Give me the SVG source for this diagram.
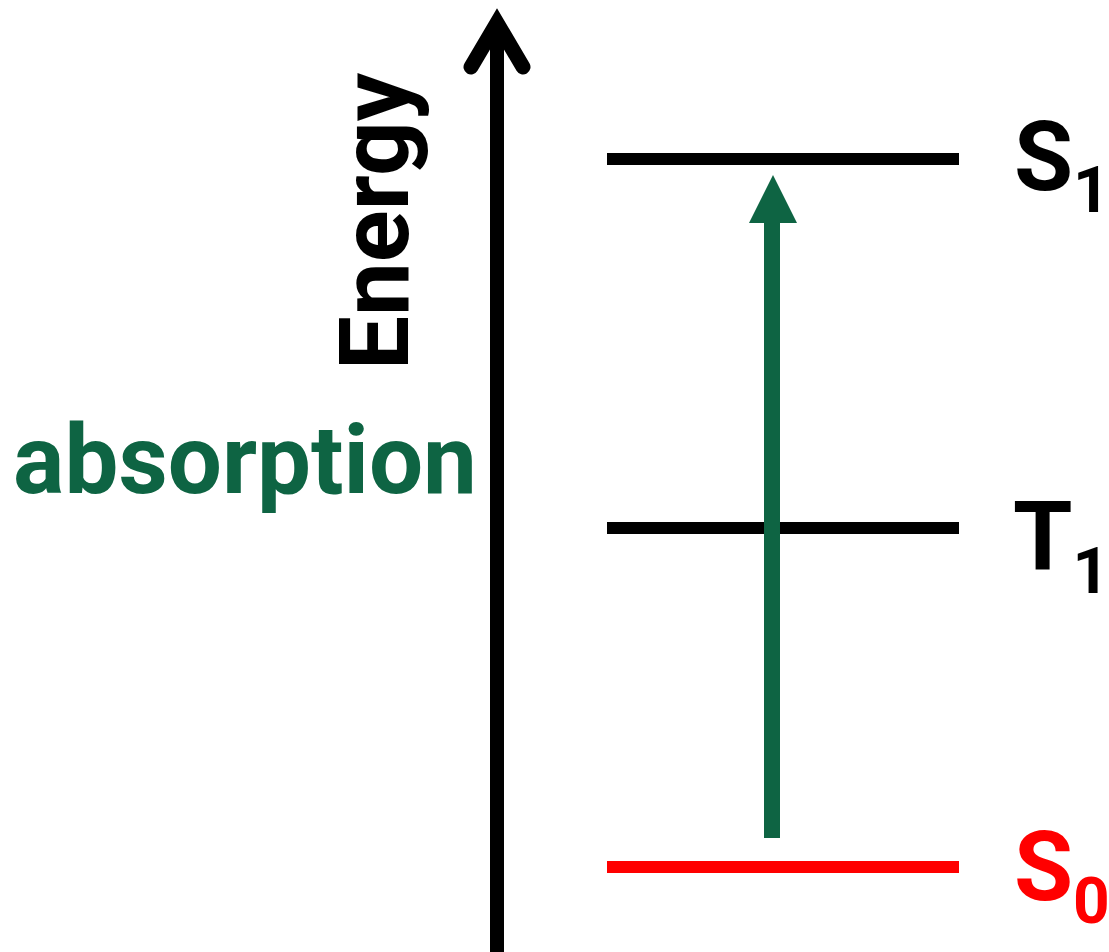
<svg xmlns="http://www.w3.org/2000/svg" width="1109" height="952" viewBox="0 0 1109 952">
<style>
.lvl{stroke-width:12;fill:none}
.lbl{font-family:Roboto,"Liberation Sans",sans-serif;font-weight:bold;font-size:96px}
.sub{font-size:64px}
</style>
<rect width="1109" height="952" fill="#ffffff"/>
<g id="axis">
<line x1="497" y1="952" x2="497" y2="26" stroke="#000" stroke-width="14"/>
<polyline points="471,67 497,23 523,67" fill="none" stroke="#000" stroke-width="15" stroke-linecap="round" stroke-linejoin="miter"/>
<text class="lbl" x="408" y="370" transform="rotate(-90 408 370)" fill="#000">Energy</text>
</g>
<g id="S1">
<line class="lvl" x1="607" y1="159" x2="959" y2="159" stroke="#000"/>
<text class="lbl" x="1014" y="190" fill="#000">S<tspan class="sub" dy="22">1</tspan></text>
</g>
<g id="T1">
<line class="lvl" x1="607" y1="528" x2="959" y2="528" stroke="#000"/>
<text class="lbl" x="1013" y="570" fill="#000">T<tspan class="sub" dy="23">1</tspan></text>
</g>
<g id="S0">
<line class="lvl" x1="607" y1="867" x2="959" y2="867" stroke="#ff0000"/>
<text class="lbl" x="1014" y="900" fill="#ff0000">S<tspan class="sub" dy="23">0</tspan></text>
</g>
<g id="connectors">
<line x1="772" y1="838" x2="772" y2="218" stroke="#0e6443" stroke-width="16"/>
<polygon points="749,223 773,175 797,223" fill="#0e6443"/>
</g>
<g id="absorption">
<text class="lbl" x="13" y="493" fill="#0e6443">absorption</text>
</g>
</svg>
